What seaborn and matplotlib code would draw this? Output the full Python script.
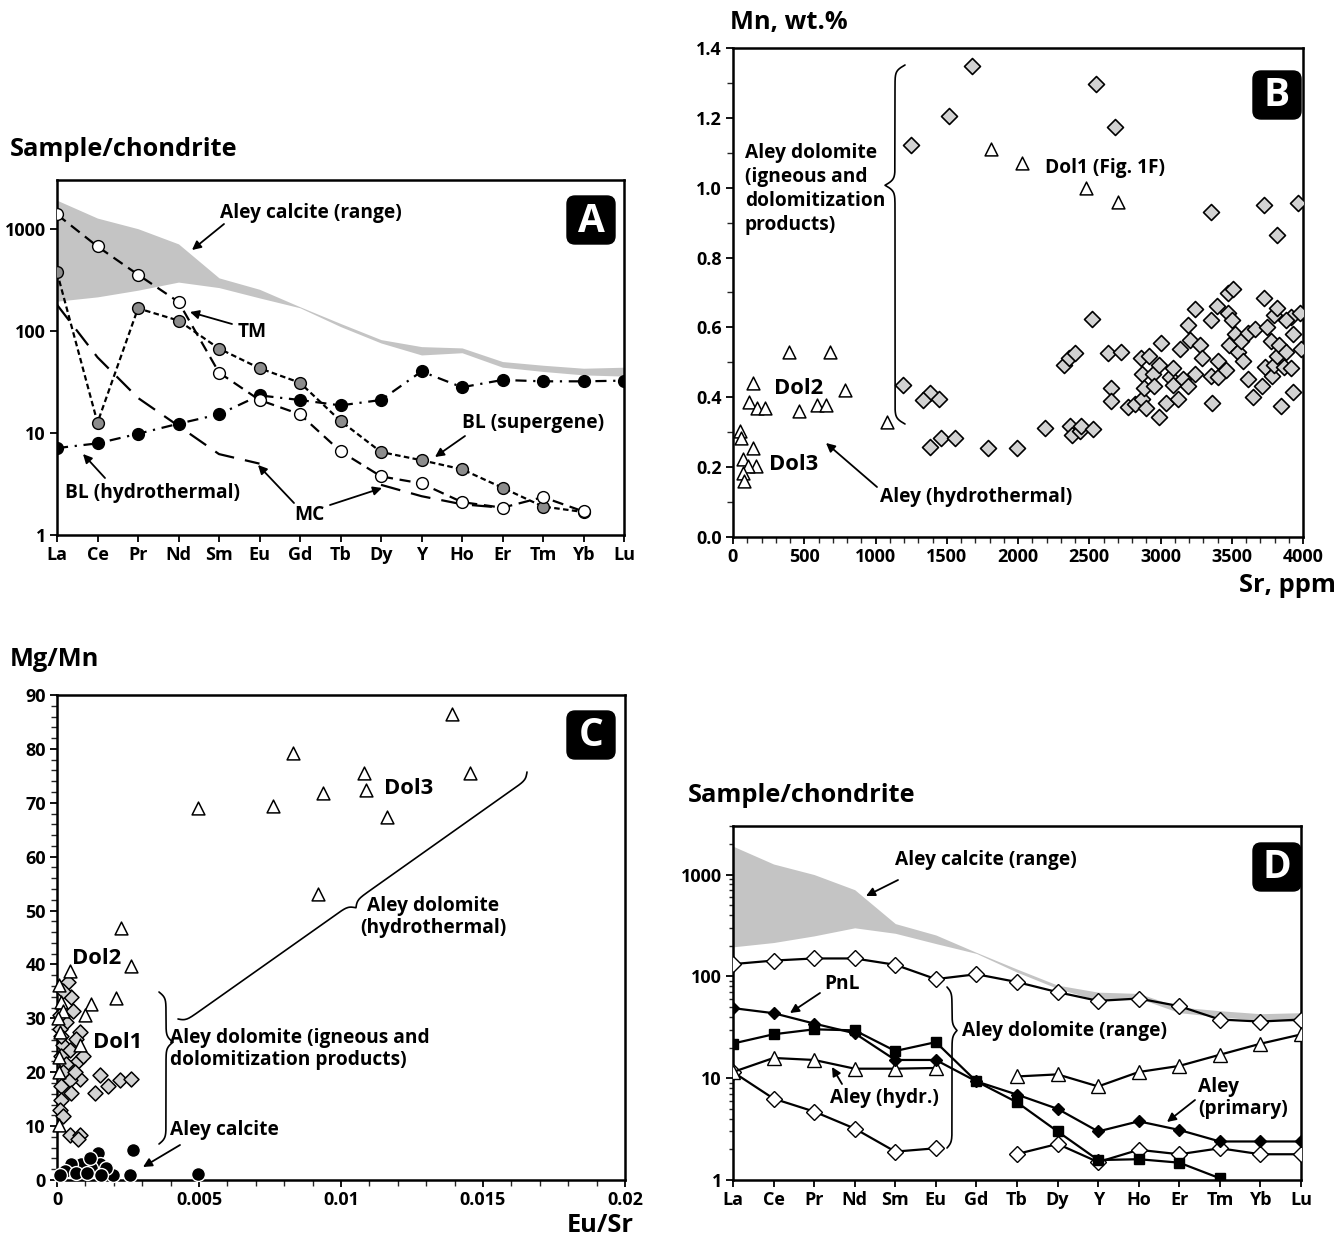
import numpy as np
import pandas as pd
import matplotlib
matplotlib.use("Agg")
import matplotlib.pyplot as plt
import seaborn as sns
import matplotlib.transforms as mtransforms
from matplotlib.patches import FancyArrowPatch, FancyBboxPatch
from matplotlib.lines import Line2D
from matplotlib.ticker import MultipleLocator, LogLocator, NullFormatter, NullLocator

nan = np.nan

# ---------------- data ----------------
ree = ["La", "Ce", "Pr", "Nd", "Sm", "Eu", "Gd", "Tb", "Dy", "Y", "Ho", "Er", "Tm", "Yb", "Lu"]
calcite_hi = [1900, 1270, 1000, 710, 330, 255, 172, 118, 82, 70, 68, 50, 46, 43, 44]
calcite_lo = [195, 215, 250, 300, 265, 210, 168, 110, 76, 58, 61, 44, 40, 37, 36]

# Panel A
a_tm = [1380, 670, 355, 192, 39, 21, 15.2, 6.6, 3.75, 3.2, 2.1, 1.85, 2.35, 1.7, nan]
a_bl_sup = [375, 12.6, 166, 126, 67, 43, 31, 13.1, 6.5, 5.4, 4.4, 2.9, 1.9, 1.68, nan]
a_bl_hyd = [7.1, 7.9, 9.8, 12.3, 15.2, 23.3, 21, 18.6, 21, 40, 28, 33, 32, 32, 32.5]
a_mc = [180, 55, 22, 11.7, 6.2, 5.0, nan, nan, 3.1, 2.4, 2.0, 1.85, nan, nan, nan]

# Panel B
b_tri_sr = [143, 115, 171, 225, 461, 592, 653, 786, 1083, 49, 54, 143, 72, 161, 105, 68, 77,
            390, 681, 1810, 2030, 2480, 2700]
b_tri_mn = [0.44, 0.386, 0.369, 0.37, 0.362, 0.378, 0.378, 0.42, 0.33, 0.304, 0.283, 0.256,
            0.222, 0.203, 0.203, 0.184, 0.16, 0.53, 0.53, 1.11, 1.07, 1.0, 0.96]
b_dia_sr = [1674, 1519, 1252, 1190, 1384, 1333, 1449, 1384, 1458, 1560, 1790, 1990,
            2548, 2680, 3352, 3724, 3964, 3820, 2188, 2368, 2380, 2435, 2445, 2524,
            2325, 2356, 2397, 2517, 2632, 2723, 2656, 2656, 2771, 2824, 2872, 2896,
            2860, 2920, 2872, 2884, 2944, 2992, 2992, 3004, 2956, 3040, 3064, 3088,
            3088, 3124, 3136, 3160, 3196, 3208, 3196, 3244, 3244, 3280, 3292, 3352,
            3352, 3364, 3395, 3405, 3400, 3460, 3472, 3508, 3472, 3501, 3484, 3520,
            3544, 3568, 3580, 3616, 3616, 3664, 3652, 3724, 3712, 3736, 3748, 3772,
            3784, 3796, 3796, 3820, 3820, 3832, 3844, 3868, 3880, 3916, 3916, 3928,
            3928, 3976, 3988, 3880]
b_dia_mn = [1.349, 1.206, 1.122, 0.435, 0.413, 0.392, 0.394, 0.258, 0.284, 0.284, 0.255, 0.254,
            1.297, 1.174, 0.931, 0.950, 0.955, 0.864, 0.313, 0.318, 0.293, 0.303, 0.318, 0.31,
            0.493, 0.513, 0.527, 0.623, 0.527, 0.529, 0.428, 0.39, 0.373, 0.38, 0.395, 0.37,
            0.513, 0.518, 0.467, 0.428, 0.467, 0.493, 0.344, 0.554, 0.431, 0.385, 0.457, 0.483,
            0.436, 0.395, 0.539, 0.451, 0.431, 0.565, 0.606, 0.652, 0.467, 0.55, 0.513, 0.621,
            0.462, 0.385, 0.662, 0.503, 0.457, 0.477, 0.698, 0.711, 0.642, 0.621, 0.549, 0.58,
            0.529, 0.56, 0.503, 0.585, 0.452, 0.595, 0.40, 0.683, 0.431, 0.488, 0.601, 0.56,
            0.462, 0.493, 0.637, 0.657, 0.518, 0.549, 0.375, 0.488, 0.529, 0.631, 0.483, 0.58,
            0.416, 0.642, 0.539, 0.62]

# Panel C
c_tri_eu = [0.0139, 0.0108, 0.01453, 0.00938, 0.01088, 0.01163, 0.0092, 0.00498, 0.00762, 0.0083,
            0.00227, 0.00262, 0.00209, 0.00045, 0.00007, 0.00015, 0.0002, 0.00121, 0.00098,
            0.0008, 0.00007, 0.00007, 0.00004, 0.0001, 0.00008]
c_tri_mg = [86.5, 75.6, 75.6, 71.8, 72.4, 67.3, 53.0, 69.0, 69.4, 79.3,
            46.7, 39.8, 33.7, 38.8, 36.1, 33.0, 31.4, 32.7, 30.7, 25.1, 22.8, 10.2, 30.0, 27.4, 20.1]
c_dia_eu = [0.0005, 0.00039, 0.00021, 0.00056, 0.00033, 0.0001, 0.0008, 0.00068, 0.00021, 0.00045,
            0.00015, 0.00074, 0.00033, 0.00021, 0.0008, 0.00045, 0.00015, 0.0005, 0.00015, 0.0001,
            0.00021, 0.00045, 0.0008, 0.00074, 0.0015, 0.00133, 0.0018, 0.00221, 0.00262, 0.0001,
            0.00015, 0.00062, 0.00092]
c_dia_mg = [34.0, 36.7, 35.0, 31.4, 29.4, 28.1, 27.4, 26.1, 25.1, 24.1, 23.1, 22.1, 21.5, 20.1,
            18.8, 18.5, 17.5, 16.2, 14.9, 12.9, 11.9, 8.3, 8.3, 7.6, 19.5, 16.2, 17.5, 18.5, 18.8,
            30.7, 26.8, 20.1, 23.1]
c_cal_eu = [0.00266, 0.00495, 0.00256, 0.00198, 0.00145, 0.0015, 0.00174, 0.00121, 0.00086, 0.0005,
            0.00027, 0.00068, 0.00104, 0.00156, 0.0001, 0.00115]
c_cal_mg = [5.6, 1.2, 1.0, 1.0, 5.0, 3.0, 2.3, 2.3, 3.0, 3.0, 1.6, 1.3, 1.3, 1.0, 1.0, 4.0]

# Panel D
d_dol_max = [132, 143, 150, 150, 130, 94, 105, 88, 70, 57.5, 60.6, 51, 37.7, 36, 37.7]
d_dol_min = [11.5, 6.3, 4.7, 3.2, 1.9, 2.05, nan, 1.8, 2.26, 1.5, 1.98, 1.79, 2.05, 1.79, 1.79]
d_hydr = [11.5, 15.8, 15.1, 12.4, 12.4, 12.6, nan, 10.4, 10.9, 8.3, 11.5, 13.2, 17, 21.8, 26.9]
d_pnl = [48.8, 43.5, 34.4, 27.6, 15.1, 15.1, 9.3, 6.9, 5.0, 3.0, 3.77, 3.1, 2.39, 2.39, 2.39]
d_sq = [21.9, 27, 30.2, 29.5, 18.5, 22.6, 9.3, 5.8, 3.0, 1.57, 1.6, 1.48, 1.04, nan, nan]

# ---------------- style ----------------
sns.set_theme(style="ticks")
plt.rcParams['font.family'] = ['Open Sans', 'DejaVu Sans']
plt.rcParams['font.weight'] = 'bold'
plt.rcParams['axes.linewidth'] = 1.6

W, H = 1336, 1241
fig = plt.figure(figsize=(W / 100, H / 100), dpi=100)
px = mtransforms.Affine2D().scale(1 / W, -1 / H).translate(0, 1) + fig.transFigure

FS_TICK = 13
FS_ANN = 13.8
FS_DOL = 15.8
FS_TITLE = 18.3


def ax_at(l, t, r, b):
    ax = fig.add_axes([l / W, 1 - b / H, (r - l) / W, (b - t) / H])
    for s in ax.spines.values():
        s.set_linewidth(1.8)
        s.set_color('black')
    ax.tick_params(direction='out', length=5, width=1.3, labelsize=FS_TICK, pad=3, colors='black')
    ax.tick_params(which='minor', direction='out', length=3, width=1.0)
    return ax


def segs(vals):
    seg, out, cur = 0, [], False
    for v in vals:
        if np.isnan(v):
            if cur:
                seg += 1
            cur = False
            out.append(-1)
        else:
            cur = True
            out.append(seg)
    return out


def ree_line(ax, vals, ls, marker=None, mfc='white', ms=8, lw=1.6, mew=1.0):
    df = pd.DataFrame({'pos': np.arange(len(ree)), 'val': vals, 'seg': segs(vals)})
    df = df[df['seg'] >= 0]
    kw = {}
    if marker is not None:
        kw = dict(marker=marker, markersize=ms, markerfacecolor=mfc,
                  markeredgecolor='black', markeredgewidth=mew)
    sns.lineplot(data=df, x='pos', y='val', units='seg', estimator=None, sort=False,
                 color='black', lw=lw, linestyle=ls, ax=ax, zorder=3, **kw)


def txt(x, y, s, size=FS_ANN, ha='left', va='center', **kw):
    fig.text(x, y, s, transform=px, fontsize=size, ha=ha, va=va, fontweight='bold',
             color='black', **kw)


def arrow(x1, y1, x2, y2):
    fig.add_artist(FancyArrowPatch((x1, y1), (x2, y2), transform=px, arrowstyle='-|>',
                                   mutation_scale=13, lw=1.3, color='black',
                                   shrinkA=0, shrinkB=0))


def badge(cx, cy, letter):
    fig.add_artist(FancyBboxPatch((cx - 24, cy - 24), 48, 48, transform=px,
                                  boxstyle='round,pad=0,rounding_size=8',
                                  fc='black', ec='black'))
    fig.text(cx, cy + 1, letter, transform=px, fontsize=28, ha='center', va='center',
             color='white', fontweight='bold')


def brace(p1, p2, frac, w, side, beta=0.35, lw=1.2):
    p1, p2 = np.array(p1, float), np.array(p2, float)
    L = np.linalg.norm(p2 - p1)
    u = (p2 - p1) / L
    n = np.array([-u[1], u[0]]) * side

    def half(Lh):
        q = np.linspace(0, Lh, 200)
        y = 1 / (1 + np.exp(-beta * (q - q[0]))) + 1 / (1 + np.exp(-beta * (q - q[-1])))
        return q, (y - 0.5) * w

    L1 = L * frac
    L2 = L - L1
    q1, o1 = half(L1)
    q2, o2 = half(L2)
    s = np.concatenate([q1, L1 + (L2 - q2[::-1])])
    o = np.concatenate([o1, o2[::-1]])
    pts = p1[None, :] + s[:, None] * u[None, :] + o[:, None] * n[None, :]
    fig.add_artist(Line2D(pts[:, 0], pts[:, 1], transform=px, color='black', lw=lw))


def ree_axes(ax, minor):
    ax.set_yscale('log')
    ax.set_xlim(0, len(ree) - 1)
    ax.set_ylim(1, 3000)
    ax.set_xticks(np.arange(len(ree)))
    ax.set_xticklabels(ree)
    ax.set_yticks([1, 10, 100, 1000])
    ax.set_yticklabels(['1', '10', '100', '1000'])
    if minor:
        ax.yaxis.set_minor_locator(LogLocator(base=10, subs=np.arange(2, 10)))
    else:
        ax.yaxis.set_minor_locator(NullLocator())
    ax.yaxis.set_minor_formatter(NullFormatter())
    ax.set_xlabel('')
    ax.set_ylabel('')


# ---------------- Panel A ----------------
axA = ax_at(57, 180, 624, 535)
xs = np.arange(len(ree))
axA.fill_between(xs, calcite_lo, calcite_hi, color='#c4c4c4', lw=0, zorder=1)
ree_line(axA, a_mc, (0, (9, 5)), lw=1.6)
ree_line(axA, a_bl_hyd, (0, (5, 3, 1, 3)), marker='o', mfc='black', ms=8.5)
ree_line(axA, a_bl_sup, (0, (2.5, 1.5)), marker='o', mfc='#8c8c8c', ms=8.5)
ree_line(axA, a_tm, (0, (5, 3)), marker='o', mfc='white', ms=8.5)
ree_axes(axA, minor=False)

txt(10, 150, 'Sample/chondrite', size=FS_TITLE)
txt(220, 213, 'Aley calcite (range)')
arrow(224, 224, 192, 250)
txt(238, 332, 'TM')
arrow(232, 324, 190, 312)
txt(462, 423, 'BL (supergene)')
arrow(465, 436, 435, 457)
txt(65, 493, 'BL (hydrothermal)')
arrow(105, 478, 83, 454)
txt(294, 515, 'MC')
arrow(294, 503, 258, 465)
arrow(330, 505, 382, 488)
badge(591, 220, 'A')

# ---------------- Panel B ----------------
axB = ax_at(733, 48, 1303, 537)
sns.scatterplot(x=b_dia_sr, y=b_dia_mn, marker='D', s=66, color='#d2d2d2', edgecolor='black',
                linewidth=1.2, ax=axB, zorder=3)
sns.scatterplot(x=b_tri_sr, y=b_tri_mn, marker='^', s=85, color='white', edgecolor='black',
                linewidth=1.1, ax=axB, zorder=4)
axB.set_xlim(0, 4000)
axB.set_ylim(0, 1.4)
b_xt = [0, 500, 1000, 1500, 2000, 2500, 3000, 3500, 4000]
b_yt = [0.0, 0.2, 0.4, 0.6, 0.8, 1.0, 1.2, 1.4]
axB.set_xticks(b_xt)
axB.set_xticklabels([str(v) for v in b_xt])
axB.set_yticks(b_yt)
axB.set_yticklabels(['%.1f' % v for v in b_yt])
axB.xaxis.set_minor_locator(MultipleLocator(100))
axB.yaxis.set_minor_locator(MultipleLocator(0.1))
axB.tick_params(which='minor', length=4)

txt(730, 22, 'Mn, wt.%', size=FS_TITLE)
txt(1336, 586, 'Sr, ppm', size=FS_TITLE, ha='right')
txt(745, 189, 'Aley dolomite\n(igneous and\ndolomitization\nproducts)', linespacing=1.25)
brace((905, 65), (905, 424), 0.335, 20, 1)
txt(1045, 168, 'Dol1 (Fig. 1F)')
txt(774, 388, 'Dol2', size=FS_DOL)
txt(769, 465, 'Dol3', size=FS_DOL)
txt(880, 497, 'Aley (hydrothermal)')
arrow(877, 487, 826, 443)
badge(1277, 95, 'B')

# ---------------- Panel C ----------------
axC = ax_at(57, 695, 625, 1180)
sns.scatterplot(x=c_dia_eu, y=c_dia_mg, marker='D', s=58, color='#d2d2d2', edgecolor='black',
                linewidth=1.1, ax=axC, zorder=3, clip_on=False)
sns.scatterplot(x=c_tri_eu, y=c_tri_mg, marker='^', s=85, color='white', edgecolor='black',
                linewidth=1.1, ax=axC, zorder=4, clip_on=False)
sns.scatterplot(x=c_cal_eu, y=c_cal_mg, marker='o', s=100, color='black', edgecolor='white',
                linewidth=1.0, ax=axC, zorder=5, clip_on=False)
axC.set_xlim(0, 0.02)
axC.set_ylim(0, 90)
c_xt = [0, 0.005, 0.01, 0.015, 0.02]
axC.set_xticks(c_xt)
axC.set_xticklabels(['0', '0.005', '0.01', '0.015', '0.02'])
axC.set_yticks(np.arange(0, 91, 10))
axC.set_yticklabels([str(v) for v in range(0, 91, 10)])
axC.xaxis.set_minor_locator(MultipleLocator(0.001))
axC.yaxis.set_minor_locator(MultipleLocator(2))
axC.tick_params(which='minor', length=4)

txt(10, 660, 'Mg/Mn', size=FS_TITLE)
txt(634, 1225, 'Eu/Sr', size=FS_TITLE, ha='right')
txt(72, 958, 'Dol2', size=FS_DOL)
txt(93, 1042, 'Dol1', size=FS_DOL)
txt(384, 788, 'Dol3', size=FS_DOL)
txt(170, 1049, 'Aley dolomite (igneous and\ndolomitization products)', linespacing=1.2)
brace((159, 992), (159, 1144), 0.33, 14, -1)
brace((178, 1019), (527, 772), 0.49, 12, 1)
txt(433, 917, 'Aley dolomite\n(hydrothermal)', ha='center', linespacing=1.2)
txt(170, 1130, 'Aley calcite')
arrow(180, 1145, 143, 1167)
badge(591, 735, 'C')

# ---------------- Panel D ----------------
axD = ax_at(733, 826, 1301, 1180)
axD.fill_between(xs, calcite_lo, calcite_hi, color='#c4c4c4', lw=0, zorder=1)
ree_line(axD, d_dol_max, '-', marker='D', mfc='white', ms=8.5)
ree_line(axD, d_dol_min, '-', marker='D', mfc='white', ms=8.5)
ree_line(axD, d_hydr, '-', marker='^', mfc='white', ms=9.5)
ree_line(axD, d_sq, '-', marker='s', mfc='black', ms=7.5)
ree_line(axD, d_pnl, '-', marker='D', mfc='black', ms=6.5)
ree_axes(axD, minor=True)

txt(688, 795, 'Sample/chondrite', size=FS_TITLE)
txt(895, 860, 'Aley calcite (range)')
arrow(898, 880, 866, 896)
txt(824, 984, 'PnL')
arrow(820, 993, 790, 1013)
txt(962, 1031, 'Aley dolomite (range)')
brace((947, 987), (947, 1148), 0.27, 10, -1)
txt(830, 1098, 'Aley (hydr.)')
arrow(842, 1084, 832, 1067)
txt(1198, 1098, 'Aley\n(primary)', linespacing=1.1)
arrow(1195, 1100, 1167, 1122)
badge(1277, 867, 'D')

fig.savefig('out.png', dpi=100, facecolor='white')
